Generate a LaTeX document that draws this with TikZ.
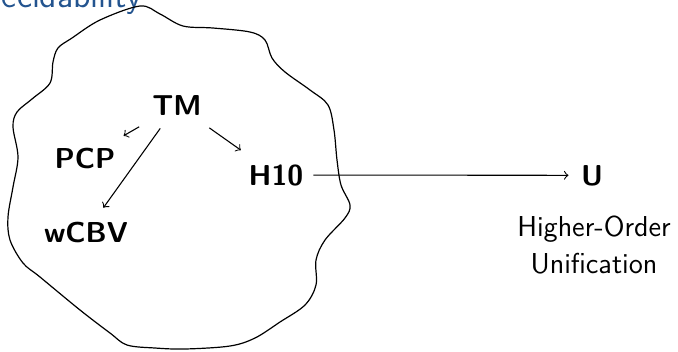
\documentclass[tikz,border=0pt]{standalone}
\usepackage{tikz}
\definecolor{titleblue}{HTML}{23548F}
\tikzset{
  prob/.style={font=\sffamily\bfseries\fontsize{12}{14.4}\selectfont, inner sep=4pt, anchor=base},
  reduc/.style={->, line width=0.45pt},
  note/.style={font=\sffamily\fontsize{12}{15.4}\selectfont, align=center, inner sep=0pt, anchor=base},
  blob/.style={line width=0.5pt}
}
\begin{document}
\begin{tikzpicture}[x=0.4167pt,y=-0.4167pt]
  \useasboundingbox (0,0) rectangle (678,351);
  \clip (0,0) rectangle (678,351);

  % frame title, partly above the page
  \node[font=\sffamily\fontsize{14.4}{17}\selectfont, text=titleblue, anchor=base east, inner sep=0pt]
    (title) at (142,7) {Undecidability};

  % the undecidable region
  \draw[blob] plot[smooth cycle, tension=0.55] coordinates {
    (140,6) (160,14) (183,26) (213,28) (250,32) (265,40) (272,58) (285,72)
    (310,90) (328,105) (334,130) (337,160) (341,185) (350,205) (345,218)
    (325,240) (316,260) (316,285) (305,305) (280,322) (255,338) (230,346)
    (185,349) (155,348) (127,345) (110,333) (80,310) (40,277) (23,263)
    (10,240) (8,217) (13,187) (18,157) (13,127) (17,112) (32,99) (50,83)
    (53,62) (58,48) (72,38) (100,20)};

  % problems
  \node[prob] (TM)   at (177,115) {TM};
  \node[prob] (PCP)  at (85,168)  {PCP};
  \node[prob] (wCBV) at (86,242)  {wCBV};
  \node[prob] (H10)  at (276,185) {H10};
  \node[prob] (U)    at (592,185) {U};
  \node[note] (HOU)  at (594,273) {Higher-Order\\Unification};

  % reductions
  \draw[reduc, shorten <=1.5pt, shorten >=1.5pt] (TM) -- (PCP);
  \draw[reduc, shorten <=1.7pt, shorten >=2pt]   (TM) -- (wCBV);
  \draw[reduc, shorten <=2pt,   shorten >=3pt]   (TM) -- (H10);
  \draw[reduc, shorten >=1pt] (H10) -- (U);
\end{tikzpicture}
\end{document}
